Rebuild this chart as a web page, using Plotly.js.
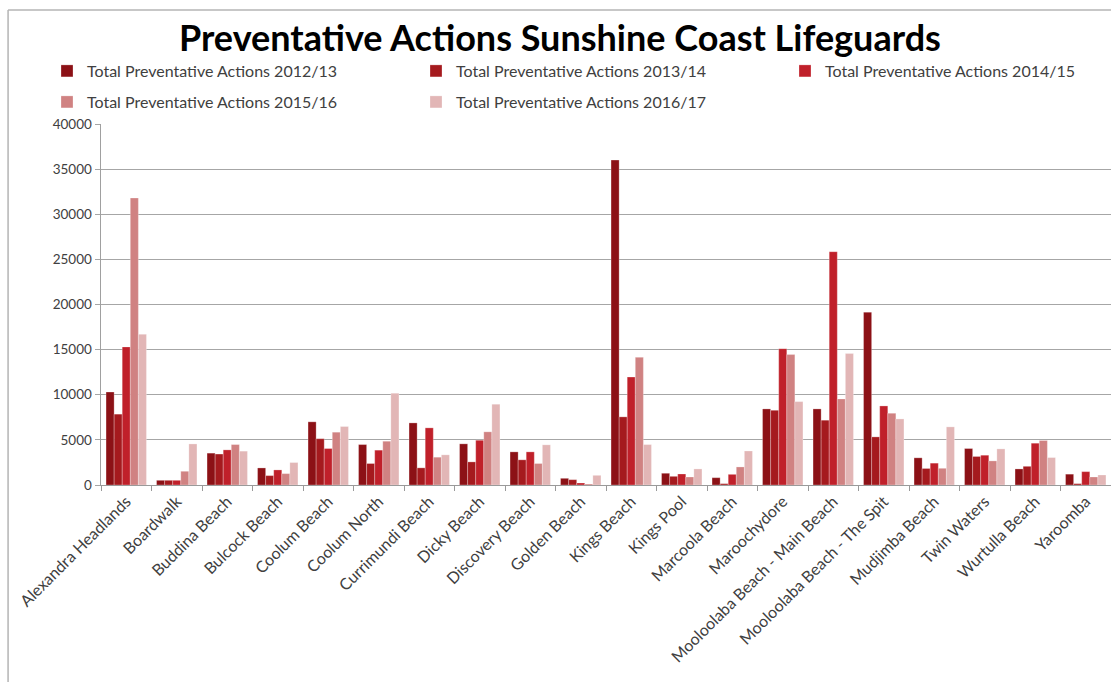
<!DOCTYPE html>
<html>
<head>
<meta charset="utf-8">
<script src="https://cdn.plot.ly/plotly-3.0.1.min.js"></script>
<style>html,body{margin:0;padding:0;background:#fff;overflow:hidden}#chart{width:1111px;height:682px}</style>
</head>
<body>
<div id="chart"></div>
<script>
const beaches = ["Alexandra Headlands","Boardwalk","Buddina Beach","Bulcock Beach","Coolum Beach","Coolum North","Currimundi Beach","Dicky Beach","Discovery Beach","Golden Beach","Kings Beach","Kings Pool","Marcoola Beach","Maroochydore","Mooloolaba Beach - Main Beach","Mooloolaba Beach - The Spit","Mudjimba Beach","Twin Waters","Wurtulla Beach","Yaroomba"];
const seriesNames = ["Total Preventative Actions 2012/13","Total Preventative Actions 2013/14","Total Preventative Actions 2014/15","Total Preventative Actions 2015/16","Total Preventative Actions 2016/17"];
const v2012 = [10300, 520, 3530, 1890, 7000, 4480, 6880, 4560, 3670, 740, 36000, 1300, 810, 8430, 8430, 19150, 3010, 4040, 1780, 1200];
const v2013 = [7850, 520, 3430, 1040, 5130, 2380, 1900, 2560, 2790, 590, 7550, 960, 150, 8280, 7180, 5330, 1830, 3160, 2070, 150];
const v2014 = [15300, 520, 3890, 1670, 4040, 3860, 6330, 4960, 3670, 220, 11960, 1220, 1180, 15110, 25850, 8760, 2420, 3300, 4630, 1480];
const v2015 = [31800, 1520, 4480, 1260, 5850, 4850, 3080, 5890, 2380, 110, 14150, 890, 2000, 14450, 9540, 7950, 1850, 2670, 4930, 890];
const v2016 = [16700, 4550, 3750, 2490, 6480, 10180, 3340, 8950, 4450, 1070, 4480, 1780, 3770, 9240, 14560, 7320, 6440, 4000, 3040, 1110];
const yTicks = [0,5000,10000,15000,20000,25000,30000,35000,40000];
const colors = ["#8c1116","#a51a1e","#c0202a","#d08282","#e2b6b6"];
const allValues = [v2012, v2013, v2014, v2015, v2016];
const legendIds = ["legend","legend2","legend3","legend4","legend5"];

const traces = allValues.map((vals, i) => ({
  type: "bar",
  name: seriesNames[i],
  x: beaches,
  y: vals,
  marker: {color: colors[i], line: {color: "rgba(255,255,255,0.45)", width: 0.6}},
  legend: legendIds[i],
  hoverinfo: "x+y+name"
}));

const font = "Lato, 'Open Sans', 'Liberation Sans', sans-serif";
// legend placement in pixels (left edge, row centre)
const legendLeftPx = [47, 416, 785, 47, 416];
const legendRowPx = [71, 71, 71, 102, 102];
const plotL = 101, plotT = 124, plotW = 1010, plotH = 361;

const layout = {
  width: 1111, height: 682,
  margin: {l: 101, r: 0, t: 124, b: 197},
  paper_bgcolor: "#ffffff", plot_bgcolor: "#ffffff",
  font: {family: font, color: "#404040"},
  title: {
    text: "<b>Preventative Actions Sunshine Coast Lifeguards</b>",
    font: {family: font, size: 36, color: "#000000"},
    x: 0.504, xref: "container", xanchor: "center",
    y: 1 - 38/682, yref: "container", yanchor: "middle"
  },
  barmode: "group", bargap: 0.2, bargroupgap: 0,
  showlegend: true,
  xaxis: {
    type: "category", range: [-0.5, 19.5],
    tickangle: -45, tickfont: {family: font, size: 16, color: "#404040"},
    ticks: "outside", tickson: "boundaries", ticklen: 5, tickcolor: "#9a9a9a",
    showline: true, linecolor: "#9a9a9a", linewidth: 1,
    showgrid: false, automargin: false
  },
  yaxis: {
    range: [0, 40000], tickvals: yTicks, ticktext: yTicks.map(String),
    tickfont: {family: font, size: 13.5, color: "#404040"},
    ticks: "outside", ticklen: 5, tickcolor: "#a6a6a6",
    showgrid: true, gridcolor: "#a6a6a6", gridwidth: 1.2,
    showline: true, linecolor: "#a0a0a0", linewidth: 1.5,
    zeroline: false, automargin: false
  },
  shapes: [
    {type: "line", xref: "paper", yref: "paper", x0: -0.092, x1: 1.2, y0: (485-10)/361, y1: (485-10)/361, line: {color: "#b4b4b4", width: 1.5}},
    {type: "line", xref: "paper", yref: "paper", x0: -0.092, x1: -0.092, y0: (485-10)/361, y1: -0.7, line: {color: "#b4b4b4", width: 1.5}}
  ]
};
legendIds.forEach((id, i) => {
  layout[id] = {
    orientation: "h", xanchor: "left", yanchor: "middle",
    x: (legendLeftPx[i] - plotL) / plotW,
    y: 1 + (plotT - legendRowPx[i]) / plotH,
    font: {family: font, size: 16, color: "#404040"},
    bgcolor: "rgba(0,0,0,0)", itemwidth: 30
  };
});

Plotly.newPlot("chart", traces, layout, {displayModeBar: false, staticPlot: true});
</script>
</body>
</html>
